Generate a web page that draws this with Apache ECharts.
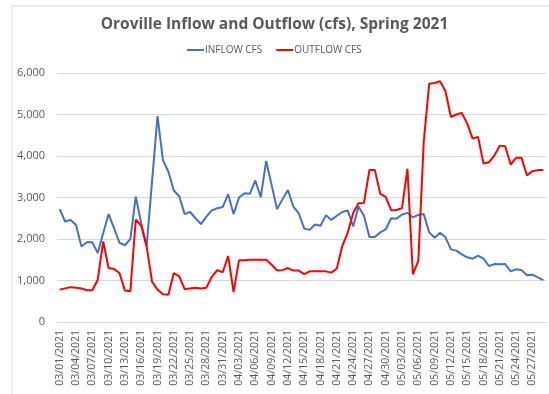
<!DOCTYPE html>
<html>
<head>
<meta charset="utf-8">
<script src="https://cdn.jsdelivr.net/npm/echarts@6/dist/echarts.min.js"></script>
<style>
  html, body { margin: 0; padding: 0; background: #fff; }
  #chart { width: 549px; height: 394px; }
</style>
</head>
<body>
<div id="chart"></div>
<script>
// daily categories, 03/01/2021 .. 05/29/2021
const dates = [];
for (let d = new Date(2021, 2, 1); d <= new Date(2021, 4, 29); d.setDate(d.getDate() + 1)) {
  const mm = String(d.getMonth() + 1).padStart(2, "0");
  const dd = String(d.getDate()).padStart(2, "0");
  dates.push(mm + "/" + dd + "/2021");
}

const inflow = [
  2720, 2420, 2460, 2340, 1820, 1920, 1920, 1660, 2140, 2600,
  2260, 1910, 1850, 2000, 3020, 2380, 1830, 3400, 4960, 3900,
  3620, 3170, 3030, 2600, 2650, 2500, 2360, 2540, 2690, 2740,
  2770, 3080, 2600, 3000, 3100, 3090, 3410, 3010, 3880, 3300,
  2720, 2960, 3180, 2780, 2620, 2250, 2220, 2350, 2320, 2570,
  2460, 2560, 2650, 2690, 2300, 2780, 2560, 2050, 2050, 2160,
  2230, 2500, 2490, 2590, 2630, 2520, 2580, 2600, 2160, 2030,
  2150, 2040, 1750, 1720, 1630, 1560, 1525, 1600, 1525, 1350,
  1395, 1390, 1395, 1220, 1270, 1250, 1125, 1140, 1075, 1010
];

const outflow = [
  780, 810, 840, 826, 810, 765, 765, 1020, 1940, 1300,
  1275, 1180, 760, 740, 2470, 2320, 1820, 970, 780, 670,
  655, 1180, 1100, 790, 810, 828, 810, 828, 1090, 1250,
  1200, 1590, 720, 1485, 1490, 1500, 1500, 1500, 1500, 1380,
  1240, 1250, 1300, 1240, 1240, 1155, 1220, 1220, 1220, 1220,
  1190, 1290, 1830, 2150, 2620, 2860, 2870, 3660, 3660, 3090,
  3015, 2695, 2700, 2745, 3690, 1150, 1470, 4350, 5740, 5760,
  5800, 5560, 4940, 5000, 5040, 4780, 4420, 4460, 3820, 3850,
  4010, 4250, 4235, 3795, 3955, 3955, 3530, 3635, 3660, 3660
];

const yTicks = [0, 1000, 2000, 3000, 4000, 5000, 6000];

const chartDom = document.getElementById("chart");
const myChart = echarts.init(chartDom);
const textColor = "#595959";
const gridColor = "#d9d9d9";

const option = {
  animation: false,
  backgroundColor: "#fff",
  textStyle: { fontFamily: "Open Sans" },
  graphic: [
    {
      type: "rect",
      shape: { x: 12, y: 6, width: 560, height: 400 },
      style: { fill: "none", stroke: gridColor, lineWidth: 1 },
      silent: true,
    },
  ],
  title: {
    text: "Oroville Inflow and Outflow (cfs), Spring 2021",
    left: "center",
    top: 12,
    textStyle: {
      color: textColor,
      fontSize: 15.5,
      fontWeight: "bold",
      fontFamily: "Open Sans",
    },
  },
  legend: {
    top: 40,
    left: 182,
    itemWidth: 17,
    itemHeight: 2,
    itemGap: 14,
    icon: "rect",
    textStyle: { color: textColor, fontSize: 10, padding: [0, 0, 0, -4] },
    data: ["INFLOW CFS", "OUTFLOW CFS"],
  },
  grid: { left: 57, right: 3, top: 73, bottom: 72, containLabel: false },
  xAxis: {
    type: "category",
    data: dates,
    boundaryGap: true,
    axisLine: { lineStyle: { color: gridColor } },
    axisTick: { show: false },
    axisLabel: {
      interval: 2,
      rotate: 90,
      color: textColor,
      fontSize: 10.5,
      margin: 8,
    },
  },
  yAxis: {
    type: "value",
    min: yTicks[0],
    max: yTicks[yTicks.length - 1],
    interval: 1000,
    axisLine: { show: false },
    axisTick: { show: false },
    splitLine: { lineStyle: { color: gridColor } },
    axisLabel: {
      color: textColor,
      fontSize: 11,
      margin: 12,
      formatter: (v) => v.toLocaleString("en-US"),
    },
  },
  series: [
    {
      name: "INFLOW CFS",
      type: "line",
      data: inflow,
      symbol: "none",
      lineStyle: { color: "#4472C4", width: 2 },
      itemStyle: { color: "#4472C4" },
    },
    {
      name: "OUTFLOW CFS",
      type: "line",
      data: outflow,
      symbol: "none",
      lineStyle: { color: "#FF0000", width: 2 },
      itemStyle: { color: "#FF0000" },
    },
  ],
};

option && myChart.setOption(option);
</script>
</body>
</html>
